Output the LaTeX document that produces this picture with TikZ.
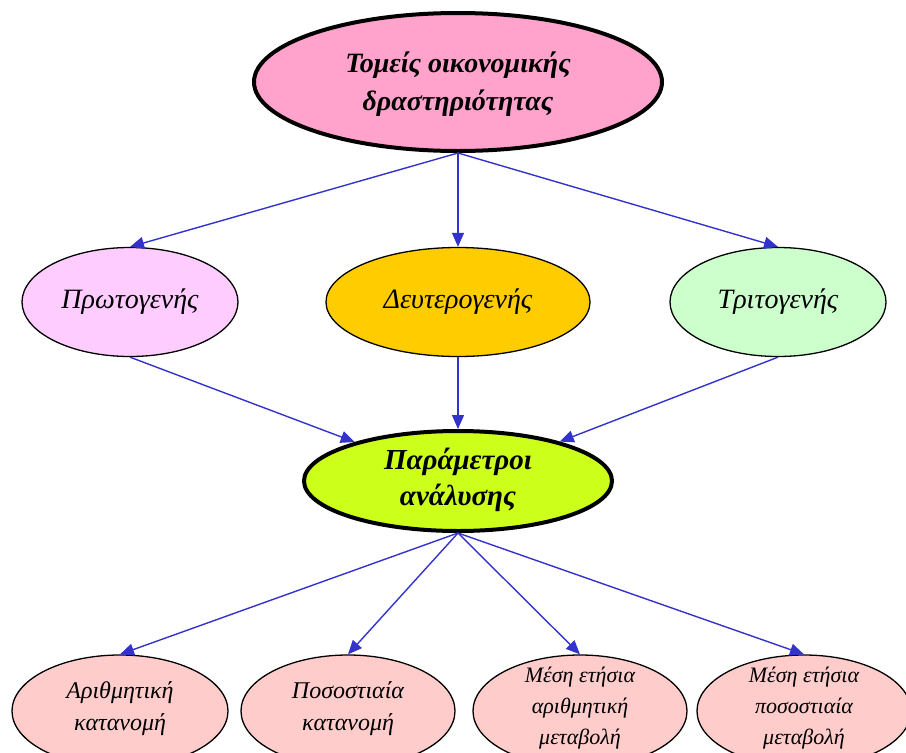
\documentclass[tikz,border=0pt]{standalone}
\usepackage{fontspec}
\setmainfont{Liberation Serif}
\usetikzlibrary{shapes.geometric,arrows.meta}
\definecolor{toppink}{RGB}{255,163,204}
\definecolor{primcol}{RGB}{255,204,255}
\definecolor{seccol}{RGB}{255,204,0}
\definecolor{tercol}{RGB}{204,255,204}
\definecolor{paramcol}{RGB}{204,255,26}
\definecolor{botcol}{RGB}{255,204,204}
\definecolor{arrowcol}{RGB}{51,51,204}
\tikzset{
  ell/.style={ellipse,draw=black,line width=1.3pt,inner sep=0pt},
  bigell/.style={ellipse,draw=black,line width=4pt,inner sep=0pt},
  txt/.style={align=center,inner sep=0pt,font=\itshape},
  conn/.style={draw=arrowcol,line width=1.4pt,-{Triangle[length=14pt,width=12pt]}}
}
\begin{document}
\begin{tikzpicture}[x=1pt,y=-1pt]
\useasboundingbox (0,0) rectangle (906,753);
% ellipses
\node[bigell,fill=toppink,minimum width=408pt,minimum height=138pt] (top) at (458,82) {};
\node[ell,fill=primcol,minimum width=216pt,minimum height=109pt] (prim) at (130,302) {};
\node[ell,fill=seccol,minimum width=264pt,minimum height=109pt] (sec) at (458,302) {};
\node[ell,fill=tercol,minimum width=216pt,minimum height=109pt] (ter) at (778,302) {};
\node[bigell,fill=paramcol,minimum width=308pt,minimum height=100pt] (param) at (458,481) {};
\node[ell,fill=botcol,minimum width=216pt,minimum height=112pt] (b1) at (120,711) {};
\node[ell,fill=botcol,minimum width=214pt,minimum height=112pt] (b2) at (348,711) {};
\node[ell,fill=botcol,minimum width=214pt,minimum height=112pt] (b3) at (580,711) {};
\node[ell,fill=botcol,minimum width=214pt,minimum height=112pt] (b4) at (804,711) {};
% texts
\node[txt,font=\bfseries\itshape\fontsize{28}{38}\selectfont] (ttop) at ([yshift=-2pt]top.center) {Τομείς οικονομικής\\δραστηριότητας};
\node[txt,font=\itshape\fontsize{28}{30}\selectfont] (tprim) at (prim.center) {Πρωτογενής};
\node[txt,font=\itshape\fontsize{28}{30}\selectfont] (tsec) at (sec.center) {Δευτερογενής};
\node[txt,font=\itshape\fontsize{28}{30}\selectfont] (tter) at (ter.center) {Τριτογενής};
\node[txt,font=\bfseries\itshape\fontsize{29}{36}\selectfont] (tparam) at ([yshift=1pt]param.center) {Παράμετροι\\ανάλυσης};
\node[txt,font=\itshape\fontsize{24}{32}\selectfont] (tb1) at ([yshift=2pt]b1.center) {Αριθμητική\\κατανομή};
\node[txt,font=\itshape\fontsize{24}{32}\selectfont] (tb2) at ([yshift=2pt]b2.center) {Ποσοστιαία\\κατανομή};
\node[txt,font=\itshape\fontsize{22}{31}\selectfont] (tb3) at ([yshift=3pt]b3.center) {Μέση ετήσια\\αριθμητική\\μεταβολή};
\node[txt,font=\itshape\fontsize{22}{31}\selectfont] (tb4) at ([yshift=3pt]b4.center) {Μέση ετήσια\\ποσοστιαία\\μεταβολή};
% connectors
\draw[conn] (top.south) -- (prim.north);
\draw[conn] (top.south) -- (sec.north);
\draw[conn] (top.south) -- (ter.north);
\draw[conn] (prim.south) -- (param);
\draw[conn] (sec.south) -- (param.north);
\draw[conn] (ter.south) -- (param);
\draw[conn] (param.south) -- (b1.north);
\draw[conn] (param.south) -- (b2.north);
\draw[conn] (param.south) -- (b3.north);
\draw[conn] (param.south) -- (b4.north);
\end{tikzpicture}
\end{document}
